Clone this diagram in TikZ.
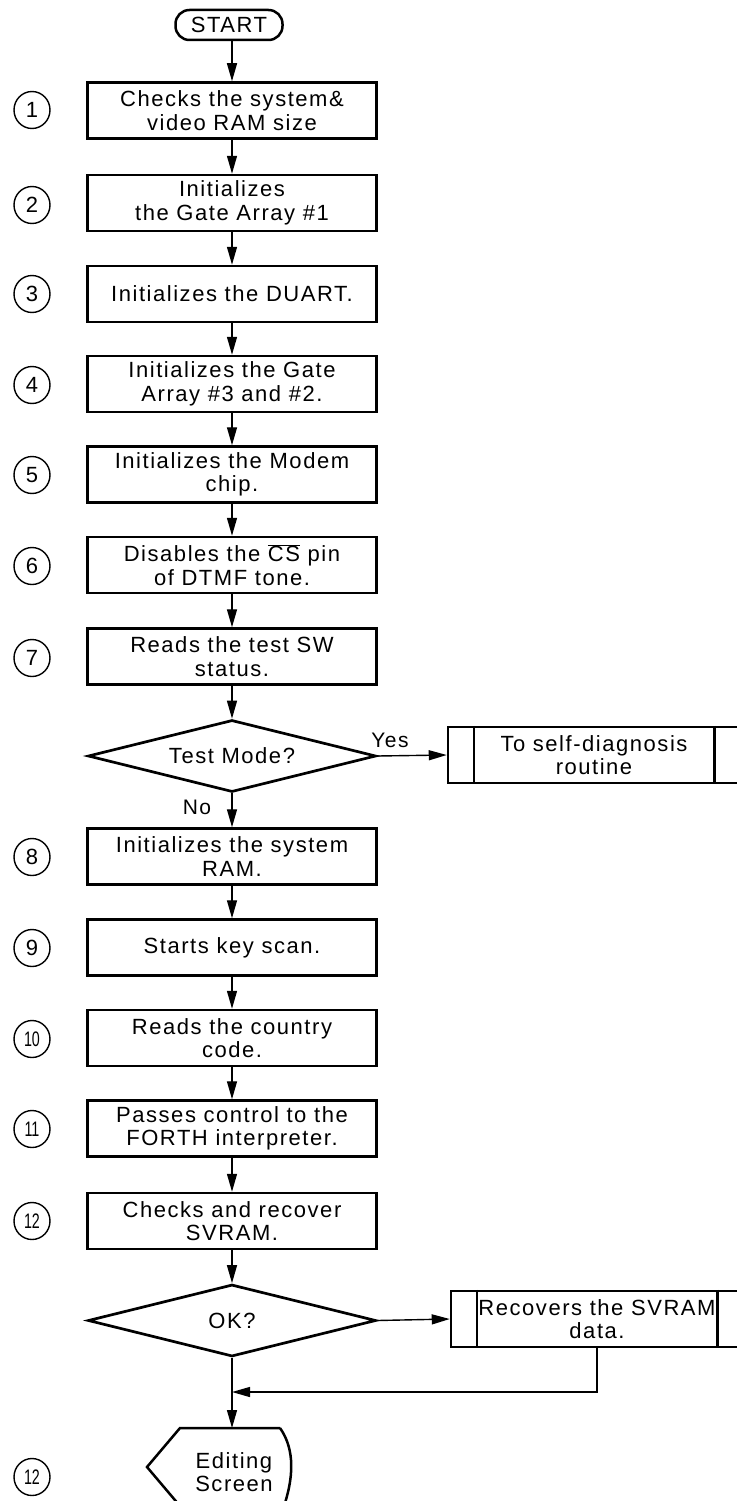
\documentclass[tikz,border=0pt]{standalone}
\usepackage{fontspec}
\setmainfont{Liberation Sans}[LetterSpace=7]
\newfontfamily\numfont{Liberation Sans}
\newfontfamily\numnarrow{Liberation Sans}[FakeStretch=0.68]
\usetikzlibrary{arrows.meta,shapes.geometric}
\begin{document}
\begin{tikzpicture}[x=1pt,y=-1pt,
  every node/.style={font=\fontsize{22}{23.5}\selectfont},
  box/.style={draw, line width=2.5pt, minimum width=289pt, minimum height=56pt, align=center, inner sep=0pt},
  dec/.style={draw, diamond, aspect=4, line width=2.7pt, minimum width=288pt, minimum height=72pt, inner sep=0pt},
  pdbox/.style={draw, line width=2.5pt, minimum width=292pt, minimum height=56pt, align=center, inner sep=0pt},
  conn/.style={line width=1.4pt, -{Triangle[length=18pt,width=10pt]}},
  num/.style={draw, ellipse, line width=1.4pt, minimum width=36pt, minimum height=37pt, inner sep=0pt, font=\numfont\fontsize{22}{22}\selectfont},
  numtwo/.style={num, font=\numnarrow\fontsize{21}{21}\selectfont},
  lbl/.style={inner sep=0pt, font=\fontsize{21}{21}\selectfont},
]
\useasboundingbox (0,0) rectangle (736,1501);

\node[draw, line width=2.5pt, rounded corners=14pt, minimum width=107pt, minimum height=30pt, inner sep=0pt] (start) at (229,25) {START};

\node[box] (b1) at (232,110.5) {Checks the system\&\\video RAM size};
\node[box] (b2) at (232,203) {Initializes\\the Gate Array \#1};
\node[box] (b3) at (232,294) {Initializes the DUART.};
\node[box] (b4) at (232,384) {Initializes the Gate\\Array \#3 and \#2.};
\node[box] (b5) at (232,474.5) {Initializes the Modem\\chip.};
\node[box] (b6) at (232,565) {Disables the $\overline{\mbox{CS}}$ pin\\of DTMF tone.};
\node[box] (b7) at (232,656.5) {Reads the test SW\\status.};
\node[dec] (d1) at (232,756) {Test Mode?};
\node[pdbox] (p1) at (594,755) {To self-diagnosis\\routine};
\node[box] (b8) at (232,856.5) {Initializes the system\\RAM.};
\node[box] (b9) at (232,947.5) {Starts key scan.};
\node[box] (b10) at (232,1038) {Reads the country\\code.};
\node[box] (b11) at (232,1128.5) {Passes control to the\\FORTH interpreter.};
\node[box] (b12) at (232,1221) {Checks and recover\\SVRAM.};
\node[dec] (d2) at (232,1320.5) {OK?};
\node[pdbox] (p2) at (597,1319) {Recovers the SVRAM\\data.};
\node[align=center, inner sep=0pt] (ed) at (234,1472) {Editing\\Screen};

% circled step numbers
\node[num] (n1) at (32,110) {1};
\node[num] (n2) at (32,205) {2};
\node[num] (n3) at (32,294) {3};
\node[num] (n4) at (32,385) {4};
\node[num] (n5) at (32,475) {5};
\node[num] (n6) at (32,566) {6};
\node[num] (n7) at (32,658) {7};
\node[num] (n8) at (32,857) {8};
\node[num] (n9) at (32,948) {9};
\node[numtwo] (n10) at (32,1039) {10};
\node[numtwo] (n11) at (32,1129) {11};
\node[numtwo] (n12) at (32,1221) {12};
\node[numtwo] (n13) at (32,1477) {12};

% predefined process side bars
\draw[line width=2.5pt] ([xshift=27pt]p1.north west) -- ([xshift=27pt]p1.south west);
\draw[line width=2.5pt] ([xshift=-27pt]p1.north east) -- ([xshift=-27pt]p1.south east);
\draw[line width=2.5pt] ([xshift=27pt]p2.north west) -- ([xshift=27pt]p2.south west);
\draw[line width=2.5pt] ([xshift=-27pt]p2.north east) -- ([xshift=-27pt]p2.south east);

% display shape
\coordinate (edtop) at (232,1428);
\draw[line width=2.5pt] (280,1428) -- (180,1428) -- (147,1467) -- (180,1506)
  (280,1428) .. controls (292,1445) and (296,1470) .. (284,1506);

% connectors
\draw[conn] (start.south -| b1.north) -- (b1.north);
\draw[conn] (b1) -- (b2);
\draw[conn] (b2) -- (b3);
\draw[conn] (b3) -- (b4);
\draw[conn] (b4) -- (b5);
\draw[conn] (b5) -- (b6);
\draw[conn] (b6) -- (b7);
\draw[conn] (b7) -- (d1);
\draw[conn] (d1) -- (b8);
\draw[conn] (d1.east) -- (p1.west);
\draw[conn] (b8) -- (b9);
\draw[conn] (b9) -- (b10);
\draw[conn] (b10) -- (b11);
\draw[conn] (b11) -- (b12);
\draw[conn] (b12) -- (d2);
\draw[conn] (d2.east) -- (p2.west);
\coordinate (join) at (232,1392);
\draw[conn] (p2.south) |- (join);
\draw[conn] (d2.south) -- (edtop);

\node[lbl] (yes) at (390,740) {Yes};
\node[lbl] (no) at (197,807) {No};
\end{tikzpicture}
\end{document}
